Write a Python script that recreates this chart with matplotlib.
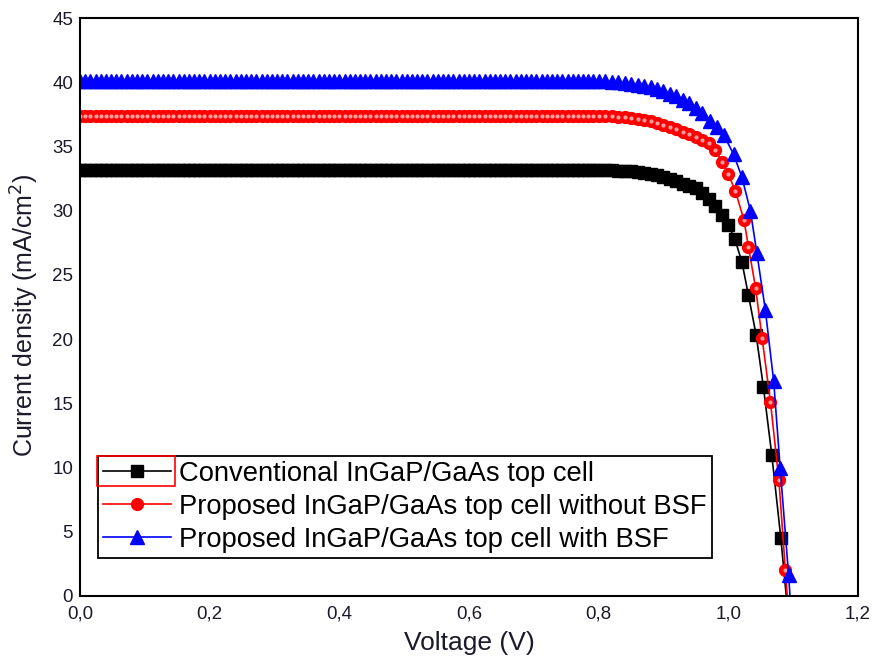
import numpy as np
import matplotlib.pyplot as plt
from matplotlib.patches import Rectangle
from matplotlib.ticker import FuncFormatter

plt.rcParams['font.family'] = ['Liberation Sans', 'DejaVu Sans']

# J-V curves, flat region sampled every 8 mV below 0.80 V
v_flat = np.round(np.arange(0.0, 0.795, 0.008), 3)

# conventional cell
v_conv_knee = [0.80, 0.81, 0.82, 0.83, 0.84, 0.85, 0.86, 0.87, 0.88, 0.89, 0.90,
               0.91, 0.92, 0.93, 0.94, 0.95, 0.96, 0.97, 0.98, 0.99, 1.00, 1.01,
               1.021, 1.031, 1.043, 1.054, 1.067, 1.081, 1.094]
j_conv_knee = [33.2, 33.2, 33.15, 33.1, 33.1, 33.05, 33.0, 32.95, 32.85, 32.75, 32.6,
               32.45, 32.3, 32.1, 31.95, 31.75, 31.35, 30.9, 30.35, 29.7, 28.85, 27.8,
               26.0, 23.4, 20.3, 16.3, 11.0, 4.5, -2.5]
j_conv_flat = [33.2] * len(v_flat)

# proposed cell, no BSF
v_nobsf_knee = [0.80, 0.81, 0.82, 0.83, 0.84, 0.85, 0.86, 0.87, 0.88, 0.89, 0.90,
                0.91, 0.92, 0.93, 0.94, 0.95, 0.96, 0.97, 0.98, 0.99, 1.00, 1.011,
                1.024, 1.031, 1.042, 1.052, 1.065, 1.078, 1.088, 1.098]
j_nobsf_knee = [37.4, 37.4, 37.35, 37.3, 37.3, 37.2, 37.15, 37.05, 36.95, 36.85, 36.7,
                36.55, 36.35, 36.15, 35.95, 35.75, 35.5, 35.3, 34.75, 33.8, 32.85, 31.5,
                29.3, 27.2, 24.0, 20.1, 15.1, 9.0, 2.0, -5.0]
j_nobsf_flat = [37.4] * len(v_flat)

# proposed cell with BSF
v_bsf_knee = [0.80, 0.81, 0.82, 0.83, 0.84, 0.85, 0.86, 0.87, 0.88, 0.89, 0.90,
              0.91, 0.92, 0.93, 0.94, 0.95, 0.96, 0.972, 0.983, 0.993, 1.008, 1.021,
              1.034, 1.044, 1.057, 1.070, 1.080, 1.093, 1.103]
j_bsf_knee = [40.1, 40.1, 40.05, 40.0, 39.95, 39.9, 39.8, 39.7, 39.6, 39.45, 39.3,
              39.1, 38.9, 38.65, 38.4, 38.0, 37.6, 37.0, 36.5, 35.9, 34.4, 32.6,
              30.0, 26.7, 22.3, 16.7, 9.95, 1.6, -6.0]
j_bsf_flat = [40.1] * len(v_flat)

labels = ['Conventional InGaP/GaAs top cell',
          'Proposed InGaP/GaAs top cell without BSF',
          'Proposed InGaP/GaAs top cell with BSF']

v_conv = np.concatenate([v_flat, v_conv_knee])
j_conv = np.concatenate([j_conv_flat, j_conv_knee])
v_nobsf = np.concatenate([v_flat, v_nobsf_knee])
j_nobsf = np.concatenate([j_nobsf_flat, j_nobsf_knee])
v_bsf = np.concatenate([v_flat, v_bsf_knee])
j_bsf = np.concatenate([j_bsf_flat, j_bsf_knee])

fig = plt.figure(figsize=(8.74, 6.62), dpi=100)
ax = fig.add_axes([0.0915, 0.0997, 0.8902, 0.8731])

ax.plot(v_conv, j_conv, color='black', lw=1.2, marker='s', ms=8.5,
        mfc='black', mec='black', label=labels[0])
ax.plot(v_nobsf, j_nobsf, color='red', lw=1.2, marker='o', ms=8.5,
        mfc='red', mec='red', label=labels[1])
# highlight spot on the red balls
ax.plot(v_nobsf, j_nobsf, ls='none', marker='o', ms=3, mfc='#ff9c9c', mec='none')
ax.plot(v_bsf, j_bsf, color='blue', lw=1.2, marker='^', ms=10,
        mfc='blue', mec='blue', label=labels[2])

ax.set_xlim(0, 1.2)
ax.set_ylim(0, 45)
ax.set_xticks(np.arange(0, 1.21, 0.2))
ax.set_yticks(np.arange(0, 46, 5))
ax.xaxis.set_major_formatter(FuncFormatter(lambda v, p: f'{v:.1f}'.replace('.', ',')))
ax.tick_params(length=0, labelsize=13.5, labelcolor='#1a1a2a')
ax.tick_params(axis='x', pad=7)
ax.tick_params(axis='y', pad=5)
for s in ax.spines.values():
    s.set_linewidth(1.5)

ax.set_xlabel('Voltage (V)', fontsize=19, color='#1a1a2a', labelpad=6)
ax.set_ylabel('Current density (mA/cm$^2$)', fontsize=18, color='#1a1a2a')
ax.yaxis.set_label_coords(-0.050, 0.485)

leg = ax.legend(loc='lower left', bbox_to_anchor=(0.023, 0.066), borderaxespad=0,
                fontsize=19.7, frameon=True, fancybox=False, edgecolor='black',
                handlelength=2.5, handletextpad=0.3, borderpad=0.18,
                labelspacing=0.26)
leg.get_frame().set_linewidth(1.3)
leg.get_frame().set_alpha(1)

# selection box around the first legend entry
fig.canvas.draw()
bb = leg.legend_handles[0].get_window_extent(fig.canvas.get_renderer())
yc = (bb.y0 + bb.y1) / 2
ax.add_artist(Rectangle((bb.x0, yc - 15), bb.width - 2, 30,
                        transform=None, fill=False, edgecolor='red', lw=1.2,
                        clip_on=False, zorder=10))

fig.savefig('out.png', dpi=100)
